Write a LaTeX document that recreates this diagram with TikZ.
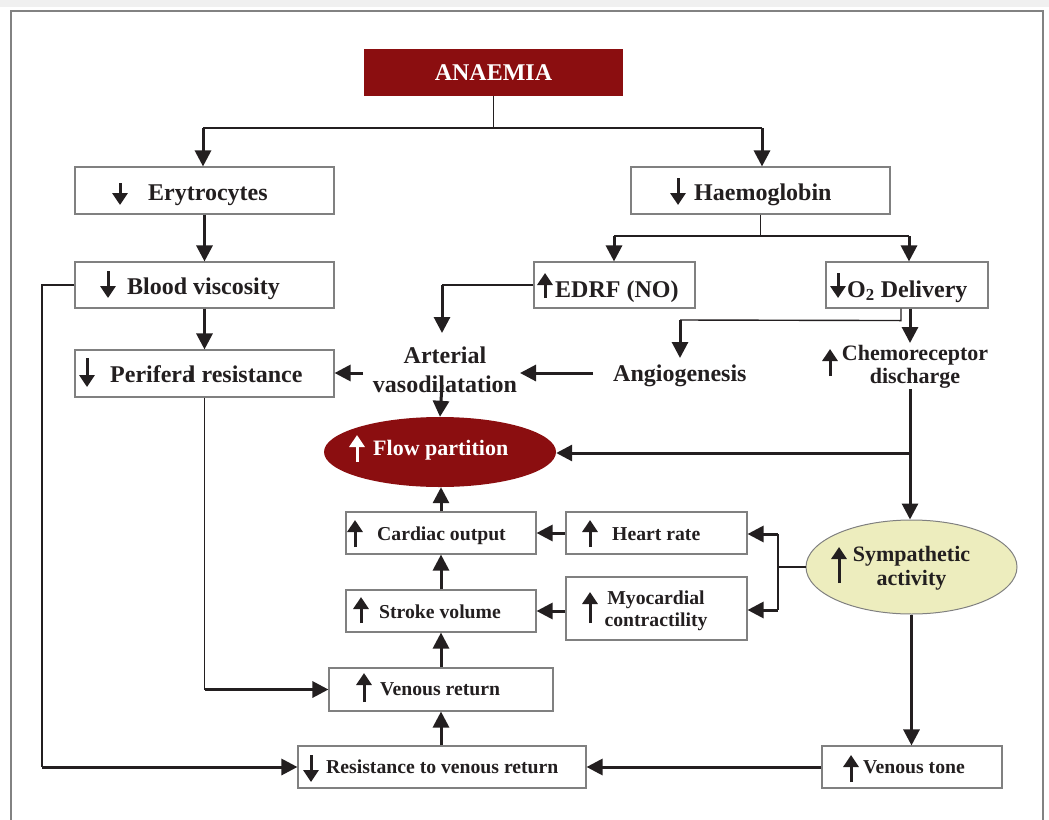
\documentclass[tikz,border=0pt]{standalone}
\usepackage{fontspec}
\setmainfont{Liberation Serif}
\usetikzlibrary{arrows.meta,shapes.geometric,calc}
\definecolor{dred}{RGB}{139,14,16}
\definecolor{pyel}{RGB}{237,237,190}
\definecolor{ink}{RGB}{35,31,32}
\definecolor{bgray}{RGB}{128,128,128}
\definecolor{frameg}{RGB}{130,130,130}
\tikzset{
  box/.style={draw=bgray, line width=1.1pt, fill=white, inner sep=0pt},
  lbl/.style={font=\bfseries\fontsize{#1}{#1}\selectfont, inner sep=0pt, text=ink},
  thk/.style={draw=ink, line width=3pt, -{Triangle[length=16pt,width=16pt]}},
  thkl/.style={draw=ink, line width=3pt},
  thn/.style={draw=ink, line width=1.4pt},
  icon/.style={draw=ink, line width=3pt, -{Triangle[length=12pt,width=15pt]}},
}
\begin{document}
\begin{tikzpicture}[x=1pt,y=-1pt]
\useasboundingbox (0,0) rectangle (1049,819);
\fill[black!6] (0,0) rectangle (1049,7);
\draw[draw=frameg, line width=1.5pt] (11,11) rectangle (1043,840);

% ---------- boxes ----------
\node[fill=dred, inner sep=0pt, minimum width=259pt, minimum height=47pt,
      text=white, font=\bfseries\fontsize{24}{24}\selectfont] (ana) at (493.5,72.5) {ANAEMIA};
\node[box, minimum width=259pt, minimum height=47pt] (ery)   at (204.5,190.5) {};
\node[box, minimum width=259pt, minimum height=46pt] (blood) at (204.5,285) {};
\node[box, minimum width=259pt, minimum height=47pt] (peri)  at (204.5,373.5) {};
\node[box, minimum width=259pt, minimum height=47pt] (haem)  at (760.5,190.5) {};
\node[box, minimum width=161pt, minimum height=46pt] (edrf)  at (614.5,285) {};
\node[box, minimum width=162pt, minimum height=46pt] (o2)    at (907,285) {};
\node[box, minimum width=190pt, minimum height=42pt] (cardiac) at (441,533) {};
\node[box, minimum width=181pt, minimum height=42pt] (heart)   at (656.5,533) {};
\node[box, minimum width=190pt, minimum height=42pt] (stroke)  at (441,611) {};
\node[box, minimum width=181pt, minimum height=63pt] (myo)     at (656.5,608.5) {};
\node[box, minimum width=224pt, minimum height=43pt] (venret)  at (441,689.5) {};
\node[box, minimum width=288pt, minimum height=42pt] (resist)  at (442,767) {};
\node[box, minimum width=180pt, minimum height=42pt] (vtone)   at (912,767) {};
\node[ellipse, fill=dred, inner sep=0pt, minimum width=232pt, minimum height=70pt] (flow) at (440,452) {};
\node[ellipse, draw=bgray, line width=1pt, fill=pyel, inner sep=0pt, minimum width=211pt, minimum height=94pt] (symp) at (911.5,567) {};

% ---------- texts ----------
\node[lbl=24, anchor=base west] (eryT)   at (148,200) {Erytrocytes};
\node[lbl=24, anchor=base west] (bloodT) at (127,294) {Blood viscosity};
\node[lbl=24, anchor=base west] (periT)  at (110,382) {Perifera\kern-0.22em l resistance};
\node[lbl=24, anchor=base west] (haemT)  at (694,200) {Haemoglobin};
\node[lbl=24, anchor=base west] (edrfT)  at (555,297) {EDRF (NO)};
\node[lbl=24, anchor=base west] (o2T)    at (847,297) {O\textsubscript{2} Delivery};
\node[lbl=24, align=center, anchor=north] (art) at (445,346.7) {Arterial\\[5pt]vasodilatation};
\node[lbl=24, anchor=base west] (ang) at (613,381) {Angiogenesis};
\node[lbl=22, align=center, anchor=north] (chemo) at (915,345) {Chemoreceptor\\[1pt]discharge};
\node[lbl=22, text=white, anchor=base west] (flowT) at (373,455) {Flow partition};
\node[lbl=19.7, anchor=base west] (cardiacT) at (377,540) {Cardiac output};
\node[lbl=19.7, anchor=base west] (heartT)   at (612,540) {Heart rate};
\node[lbl=19.7, anchor=base west] (strokeT)  at (379,618) {Stroke volume};
\node[lbl=19.7, align=center, anchor=north] (myoT) at (656,590.6) {Myocardial\\[2.3pt]contractility};
\node[lbl=22, align=center, anchor=north] (sympT) at (911.5,546) {Sympathetic\\[2pt]activity};
\node[lbl=19.7, anchor=base west] (venretT) at (380,695) {Venous return};
\node[lbl=19.7, anchor=base west] (resistT) at (326,773) {Resistance to venous return};
\node[lbl=19.7, anchor=base west] (vtoneT)  at (863,773) {Venous tone};

% ---------- inline up/down icons ----------
\draw[icon] (120,183) -- (120,205);
\draw[icon] (108,271) -- (108,298);
\draw[icon] (87,358) -- (87,387);
\draw[icon] (678,178) -- (678,205);
\draw[icon] (545,298) -- (545,273);
\draw[icon] (838,273) -- (838,298);
\draw[icon] (830,376) -- (830,349);
\draw[icon, draw=white] (357,462) -- (357,435);
\draw[icon] (355,547) -- (355,520);
\draw[icon] (590,547) -- (590,520);
\draw[icon] (361,623) -- (361,597);
\draw[icon] (590,623) -- (590,592);
\draw[icon] (839,583) -- (839,547);
\draw[icon] (364,702) -- (364,673);
\draw[icon] (311,755) -- (311,782);
\draw[icon] (851,782) -- (851,755);

% ---------- connectors ----------
\draw[thn] (ana.south) -- (ana.south |- 0,128);
\draw[thn] (203,128) coordinate (jL) -- (762,128) coordinate (jR);
\draw[thk] (jL) -- (jL |- ery.north);
\draw[thk] (jR) -- (jR |- haem.north);
\draw[thk] (ery.south) -- (blood.north);
\draw[thk] (blood.south) -- (peri.north);

\draw[thn] (haem.south) -- (haem.south |- 0,236);
\draw[thn] (614,236) coordinate (jHL) -- (909,236) coordinate (jHR);
\draw[thk] (jHL) -- (jHL |- edrf.north);
\draw[thk] (jHR) -- (jHR |- o2.north);

\coordinate (artTop) at (442,333);
\coordinate (artBot) at (442,385);
\coordinate (artL) at (363,373);
\coordinate (artR) at (520,373);
\coordinate (angL) at (593,373);
\coordinate (angTop) at (680,358);
\coordinate (chemoTop) at (910,343);
\coordinate (chemoBot) at (910,389);

\draw[thn] (edrf.west) -- (442,285) coordinate (jE);
\draw[thk] (jE) -- (artTop);
\draw[thk] (artBot) -- (flow.north);
\draw[thk] (artL) -- (peri.east |- artL);
\draw[thk] (angL) -- (artR);

\draw[thn] ([xshift=-6pt]o2.south) -- ++(0,12) -- (680,320) coordinate (jO);
\draw[thk] (jO) -- (angTop);
\draw[thk] ([xshift=3pt]o2.south) -- (chemoTop);

\draw[thkl] (chemoBot) -- (910,453) coordinate (jC);
\draw[thk] (jC) -- (flow.east |- jC);
\draw[thk] (jC) -- (jC |- symp.north);

\draw[thk] (cardiac.north) -- (cardiac.north |- flow.south);
\draw[thk] (heart.west) -- (cardiac.east);
\draw[thk] (stroke.north) -- (cardiac.south);
\draw[thk] (myo.west |- stroke.east) -- (stroke.east);

\draw[thn] (symp.west) -- (778,567);
\draw[thn] (778,534) coordinate (jS1) -- (778,610) coordinate (jS2);
\draw[thk] (jS1) -- (heart.east |- jS1);
\draw[thk] (jS2) -- (myo.east |- jS2);

\draw[thk] (symp.south) -- (symp.south |- vtone.north);
\draw[thk] (vtone.west) -- (resist.east);
\draw[thk] (venret.south |- resist.north) -- (venret.south);
\draw[thk] (venret.north) -- (stroke.south);

\draw[thn] (peri.south) -- (peri.south |- venret.west) coordinate (jP);
\draw[thk] (jP) -- (venret.west);
\draw[thn] (blood.west) -- (42,285) -- (42,767) coordinate (jB);
\draw[thk] (jB) -- (resist.west);
\end{tikzpicture}
\end{document}
